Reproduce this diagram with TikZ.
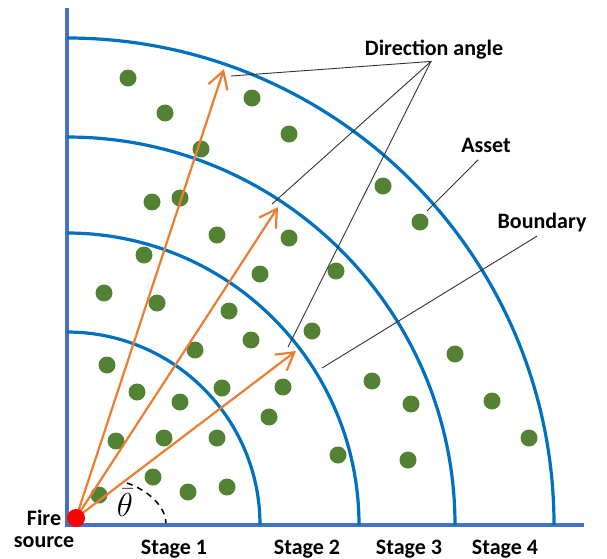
\documentclass[tikz,border=0pt]{standalone}
\usepackage{fontspec}
\setmainfont{Carlito}
\usetikzlibrary{arrows.meta}
\definecolor{axisblue}{HTML}{4472C4}
\definecolor{arcblue}{HTML}{0070C0}
\definecolor{rayorange}{HTML}{ED7D31}
\definecolor{assetgreen}{HTML}{548235}

\begin{document}
\begin{tikzpicture}[x=1pt,y=-1pt,
    lbl/.style={font=\fontsize{22}{22}\selectfont\bfseries, anchor=base, inner sep=2.5pt},
    asset/.style={circle, fill=assetgreen, minimum size=17pt, inner sep=0pt},
    bound/.style={arcblue, line width=3.2pt},
    ray/.style={rayorange, line width=2.2pt, -{Straight Barb[length=17pt,width=20pt]}},
    lead/.style={black!80, line width=0.9pt}]
    \useasboundingbox (0,0) rectangle (607,558);
    \draw[axisblue, line width=4.3pt] (67,8) -- (67,525) -- (584,525);
    \foreach \r in {193,292,388,487}
        \draw[bound] ({67+\r},525) arc[start angle=0, end angle=90, radius=\r pt];
    \foreach \x/\y [count=\i] in {128/78, 165/113, 252/98, 289/134, 201/149, 383/186, 420/222,
        152/202, 180/198, 217/235, 289/238, 144/255, 104/293, 157/303, 260/274, 336/271,
        229/311, 312/331, 251/340, 195/350, 107/365, 137/392, 180/402, 222/388, 283/387,
        269/417, 116/441, 164/438, 217/438, 338/455, 153/477, 188/492, 227/487, 99/495,
        455/354, 372/381, 411/404, 492/401, 529/438, 408/460}
        \node[asset] (a\i) at (\x,\y) {};
    \coordinate (src) at (76,518);
    \coordinate (t1) at (224,69);
    \coordinate (t2) at (278,207);
    \coordinate (t3) at (296,351);
    \foreach \t in {t1,t2,t3}
        \draw[ray] (src) -- (\t);
    \node[circle, fill=red, minimum size=18pt, inner sep=0pt] (fire) at (src) {};
    \draw[line width=1.5pt, dash pattern=on 6pt off 5pt] (127,483) .. controls (147,490) and (165,505) .. (166,523);
    \node[font=\fontsize{20}{20}\selectfont, scale=1.6, inner sep=0pt] (theta) at (125,503) {$\bar{\theta}$};
    \node[lbl] (dir) at (434,55) {Direction angle};
    \node[lbl] (ast) at (486,152) {Asset};
    \node[lbl] (bnd) at (542,228) {Boundary};
    \node[lbl, align=center] (firelbl) at (44,547) {Fire\\source};
    \foreach \x/\n in {174/1, 307/2, 409/3, 505/4}
        \node[lbl] (s\n) at (\x,554) {Stage \n};
    \coordinate (d1) at (231,76);
    \coordinate (d2) at (272,204);
    \coordinate (d3) at (288,347);
    \coordinate (ae) at (427,211);
    \coordinate (be) at (322,368);
    \draw[lead] (d1) -- ([xshift=-3pt]dir.south) -- (d2);
    \draw[lead] ([xshift=-3pt]dir.south) -- (d3);
    \draw[lead] ([shift={(-8,5)}]ast.south) -- (ae);
    \draw[lead] ([shift={(-5,2)}]bnd.south) -- (be);
\end{tikzpicture}
\end{document}
